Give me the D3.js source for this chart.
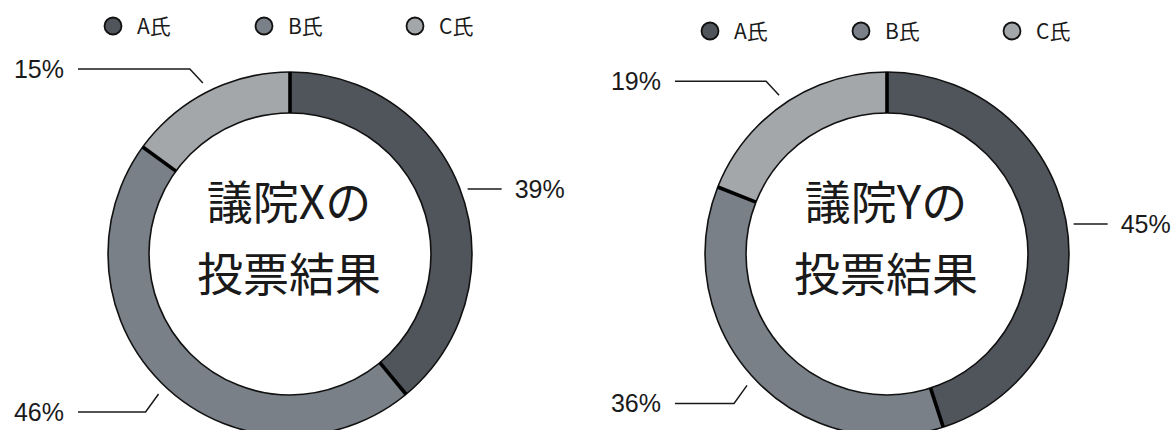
<!DOCTYPE html>
<html>
<head>
<meta charset="utf-8">
<script src="https://cdn.jsdelivr.net/npm/d3@7"></script>
<style>
  html, body { margin: 0; padding: 0; background: #fff; }
  svg { display: block; }
  text { font-family: "Liberation Sans", "Noto Sans CJK JP", sans-serif; fill: #1a1a1a; }
  .cjk { font-family: "Noto Sans CJK JP", sans-serif; }
</style>
</head>
<body>
<svg id="chart" width="1174" height="430"></svg>
<script>
// Candidates and vote shares (%) for each chamber
const parties = ["A氏", "B氏", "C氏"];
const houseX = [39, 46, 15];
const houseY = [45, 36, 19];
const titlesX = ["議院Xの", "投票結果"];
const titlesY = ["議院Yの", "投票結果"];
const partyColors = ["#50545b", "#798087", "#a4a7aa"];

const svg = d3.select("#chart");
const outerR = 182, innerR = 141, labelR = 192;

const color = d3.scaleOrdinal().domain(parties).range(partyColors);
const pie = d3.pie().value(d => d.value).sort(null);
const arc = d3.arc().innerRadius(innerR).outerRadius(outerR);

function polar(r, a) { return [r * Math.sin(a), -r * Math.cos(a)]; }

function donut(cx, cy, values, titles, legendY) {
  const g = svg.append("g").attr("transform", `translate(${cx},${cy})`);
  const data = parties.map((p, i) => ({ party: p, value: values[i] }));
  const slices = pie(data);

  // ring segments
  g.selectAll("path.slice").data(slices).join("path")
    .attr("class", "slice")
    .attr("d", arc)
    .attr("fill", d => color(d.data.party));

  // outer and inner borders
  [outerR, innerR].forEach(r => g.append("circle")
    .attr("r", r).attr("fill", "none")
    .attr("stroke", "#111").attr("stroke-width", 1.6));

  // heavy dividers between segments
  g.selectAll("line.div").data(slices).join("line")
    .attr("class", "div")
    .attr("x1", d => polar(innerR, d.startAngle)[0])
    .attr("y1", d => polar(innerR, d.startAngle)[1])
    .attr("x2", d => polar(outerR, d.startAngle)[0])
    .attr("y2", d => polar(outerR, d.startAngle)[1])
    .attr("stroke", "#000").attr("stroke-width", 3.6);

  // percentage labels with leader lines
  slices.forEach(d => {
    const mid = (d.startAngle + d.endAngle) / 2;
    const [x0, y0] = polar(labelR, mid);
    const txt = d.data.value + "%";
    if (x0 > 0) {
      g.append("line")
        .attr("x1", x0 - 3).attr("y1", y0).attr("x2", x0 + 31).attr("y2", y0)
        .attr("stroke", "#1a1a1a").attr("stroke-width", 1.5);
      g.append("text").attr("x", x0 + 44).attr("y", y0 + 9)
        .attr("font-size", 25).text(txt);
    } else {
      const dy = y0 < 0 ? -14 : 18;
      const x1 = x0 - 13, y1 = y0 + dy;
      const xEnd = -212;
      g.append("polyline")
        .attr("points", `${x0},${y0} ${x1},${y1} ${xEnd},${y1}`)
        .attr("fill", "none").attr("stroke", "#1a1a1a").attr("stroke-width", 1.5);
      g.append("text").attr("x", xEnd - 14).attr("y", y1 + 9)
        .attr("text-anchor", "end").attr("font-size", 25).text(txt);
    }
  });

  // centre title
  g.selectAll("text.title").data(titles).join("text")
    .attr("class", "title cjk")
    .attr("text-anchor", "middle")
    .attr("x", -1)
    .attr("y", (d, i) => -35 + i * 72)
    .attr("font-size", 46)
    .text(d => d);

  // legend
  const leg = svg.append("g").attr("transform", `translate(${cx},${legendY})`);
  const items = leg.selectAll("g").data(parties).join("g")
    .attr("transform", (d, i) => `translate(${-177 + i * 151},0)`);
  items.append("circle").attr("r", 8.5)
    .attr("fill", d => color(d)).attr("stroke", "#111").attr("stroke-width", 1.8);
  items.append("text").attr("class", "cjk")
    .attr("x", 24).attr("y", 7.5).attr("font-size", 21).text(d => d);
}

donut(290, 254, houseX, titlesX, 26);
donut(887, 254, houseY, titlesY, 31);
</script>
</body>
</html>
